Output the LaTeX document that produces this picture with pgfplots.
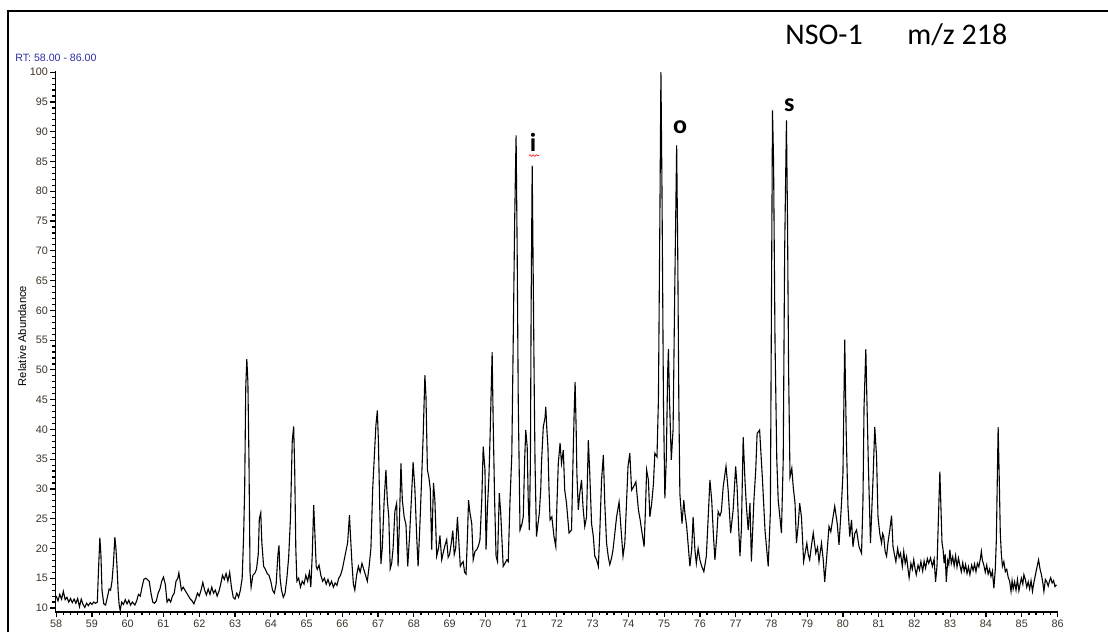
\documentclass[border=0pt]{standalone}
\usepackage{fontspec}
\setmainfont{Liberation Sans}
\newfontfamily\calibri{Carlito}
\usepackage{pgfplots}
\usepackage{pgfplotstable}
\pgfplotsset{compat=1.18}
\usetikzlibrary{decorations.pathmorphing}
\definecolor{ticktext}{RGB}{60,50,40}
\definecolor{rtblue}{RGB}{45,45,165}

% retention time (min) vs relative abundance
\pgfplotstableread{
rt ab
58.00 12.0
58.05 11.2
58.10 12.3
58.15 11.5
58.20 12.8
58.25 11.4
58.30 11.8
58.35 11.0
58.40 11.6
58.45 10.9
58.50 11.5
58.55 10.8
58.60 11.6
58.65 10.2
58.70 11.5
58.75 10.6
58.80 10.1
58.85 10.8
58.90 10.4
58.95 10.9
59.00 10.6
59.05 11.0
59.10 10.8
59.15 11.0
59.18 16.0
59.22 21.8
59.25 19.0
59.28 13.0
59.33 10.7
59.38 10.5
59.43 11.8
59.48 13.2
59.52 13.0
59.56 14.5
59.60 17.5
59.64 21.9
59.67 20.0
59.70 17.0
59.73 13.0
59.76 10.5
59.79 9.6
59.83 11.0
59.88 10.6
59.93 11.4
59.98 10.7
60.03 11.3
60.08 10.5
60.13 11.0
60.20 10.5
60.25 11.2
60.30 12.3
60.35 12.0
60.40 13.5
60.45 14.8
60.50 15.0
60.55 14.8
60.60 14.5
60.65 12.5
60.70 11.0
60.75 10.8
60.80 11.2
60.85 12.5
60.90 13.2
60.95 14.5
61.00 15.2
61.05 14.0
61.10 11.0
61.15 11.5
61.20 11.0
61.25 12.0
61.30 12.5
61.35 14.5
61.40 15.0
61.43 15.9
61.47 14.3
61.50 13.0
61.55 13.5
61.60 13.0
61.65 12.5
61.70 12.0
61.75 11.5
61.80 11.2
61.85 10.7
61.90 11.5
61.95 12.5
62.00 12.0
62.05 13.0
62.10 14.3
62.15 13.0
62.20 12.2
62.25 13.2
62.30 12.3
62.35 13.5
62.40 12.5
62.45 13.0
62.50 12.0
62.55 12.8
62.60 14.0
62.65 15.5
62.70 14.8
62.75 15.8
62.80 14.5
62.85 16.0
62.90 13.5
62.95 11.8
63.00 11.5
63.05 12.5
63.10 11.8
63.15 13.0
63.20 15.0
63.24 22.0
63.27 30.0
63.30 47.0
63.33 51.8
63.36 48.0
63.39 35.0
63.42 16.0
63.45 13.5
63.50 15.5
63.55 15.8
63.60 16.5
63.65 19.0
63.68 25.0
63.72 26.0
63.75 21.0
63.80 17.0
63.85 16.5
63.90 15.8
63.95 15.5
64.00 14.5
64.05 13.0
64.10 12.5
64.15 14.0
64.20 19.0
64.23 20.5
64.26 15.0
64.30 13.0
64.35 11.8
64.40 12.5
64.45 15.0
64.50 18.5
64.55 25.0
64.60 38.0
64.64 40.5
64.67 33.0
64.70 20.0
64.73 14.5
64.78 15.0
64.83 13.5
64.88 14.5
64.93 14.0
64.98 15.5
65.03 14.5
65.08 16.0
65.12 13.5
65.16 19.0
65.20 27.3
65.23 23.0
65.27 17.0
65.30 16.5
65.35 17.2
65.40 15.5
65.45 14.5
65.50 15.0
65.55 14.0
65.60 14.8
65.65 13.8
65.70 14.5
65.75 13.5
65.80 14.2
65.85 13.8
65.90 15.0
65.95 15.5
66.00 16.5
66.05 18.0
66.10 19.5
66.15 21.0
66.20 25.6
66.23 22.0
66.27 17.5
66.31 14.0
66.35 13.0
66.40 15.5
66.45 17.0
66.50 16.0
66.55 17.5
66.60 16.5
66.65 15.5
66.70 14.5
66.75 17.0
66.80 20.0
66.85 30.0
66.90 36.0
66.94 40.7
66.98 43.2
67.01 38.0
67.04 29.0
67.08 17.4
67.12 20.3
67.17 28.0
67.22 33.2
67.26 28.0
67.30 25.3
67.34 16.6
67.38 17.5
67.42 20.0
67.47 26.2
67.52 27.6
67.56 17.0
67.60 25.0
67.64 34.3
67.68 28.0
67.73 25.3
67.78 24.0
67.83 17.0
67.88 22.0
67.93 28.0
67.98 34.5
68.03 30.0
68.08 22.0
68.12 17.0
68.17 24.0
68.22 32.0
68.26 38.7
68.31 49.1
68.34 45.5
68.38 33.2
68.42 32.0
68.46 30.0
68.50 19.8
68.55 31.0
68.59 28.0
68.64 18.7
68.69 20.0
68.73 22.2
68.78 18.1
68.83 19.5
68.87 20.5
68.92 21.5
68.96 18.5
69.00 19.0
69.05 21.0
69.09 23.0
69.13 19.0
69.17 20.0
69.22 25.3
69.26 21.0
69.30 17.0
69.34 17.5
69.38 17.8
69.42 16.0
69.46 15.7
69.50 22.0
69.53 28.1
69.57 26.0
69.62 24.2
69.66 18.1
69.71 19.5
69.76 19.8
69.81 20.5
69.85 21.5
69.90 28.1
69.94 37.1
69.99 33.2
70.02 19.8
70.06 27.0
70.10 32.0
70.13 38.2
70.17 48.0
70.19 53.0
70.22 41.0
70.26 28.0
70.30 18.7
70.34 17.8
70.39 29.3
70.43 26.0
70.46 22.0
70.50 17.0
70.55 17.5
70.60 18.1
70.64 17.8
70.69 28.1
70.74 35.7
70.78 55.0
70.82 75.0
70.86 89.4
70.89 70.0
70.92 45.0
70.97 23.1
71.02 24.0
71.06 25.3
71.10 35.0
71.13 39.9
71.17 37.1
71.20 28.0
71.23 23.1
71.26 34.3
71.28 60.0
71.31 84.3
71.34 65.0
71.37 45.0
71.39 34.3
71.43 22.0
71.47 24.0
71.51 26.0
71.55 30.0
71.57 34.3
71.62 40.4
71.67 42.0
71.69 43.8
71.72 40.0
71.75 37.1
71.78 30.0
71.81 24.8
71.86 25.3
71.92 22.0
71.97 20.3
72.00 27.0
72.04 34.3
72.09 37.7
72.13 34.3
72.18 36.5
72.22 29.8
72.27 27.6
72.34 22.6
72.41 23.1
72.45 34.3
72.48 42.0
72.51 48.0
72.54 40.0
72.56 32.6
72.60 26.5
72.64 29.2
72.69 31.5
72.73 27.1
72.78 23.7
72.83 25.3
72.88 38.2
72.92 32.6
72.97 24.2
73.02 22.0
73.06 18.7
73.11 18.1
73.16 17.0
73.20 22.6
73.25 31.5
73.30 35.7
73.34 27.6
73.39 20.9
73.44 18.5
73.48 17.3
73.53 18.4
73.57 19.8
73.62 22.5
73.67 25.3
73.74 27.8
73.78 24.5
73.81 22.0
73.85 18.7
73.90 20.9
73.95 28.0
73.99 33.8
74.04 36.0
74.09 29.8
74.14 30.3
74.21 31.2
74.28 26.5
74.33 24.8
74.37 23.1
74.44 20.3
74.48 27.0
74.51 33.2
74.56 31.5
74.60 25.3
74.65 27.5
74.70 30.8
74.74 36.0
74.80 35.4
74.84 45.0
74.88 75.0
74.91 100.0
74.94 80.0
74.98 45.0
75.02 28.4
75.06 35.0
75.10 50.0
75.12 53.5
75.15 45.0
75.20 34.9
75.25 40.0
75.30 65.0
75.35 87.7
75.38 70.0
75.41 45.0
75.44 29.2
75.50 24.2
75.55 28.1
75.58 26.0
75.63 23.7
75.68 20.0
75.72 17.0
75.77 19.8
75.81 25.3
75.86 19.8
75.90 17.5
75.95 20.0
76.00 18.1
76.05 17.0
76.11 16.1
76.18 18.7
76.23 25.0
76.28 31.5
76.33 28.1
76.38 22.0
76.42 18.1
76.47 22.0
76.51 26.2
76.56 25.5
76.60 26.2
76.65 30.3
76.73 33.8
76.79 29.8
76.86 22.6
76.93 26.5
77.00 33.8
77.04 30.3
77.08 24.0
77.12 18.7
77.16 23.1
77.21 38.7
77.26 31.5
77.30 27.1
77.35 23.1
77.40 27.6
77.44 17.8
77.51 28.1
77.56 33.0
77.60 39.3
77.67 39.9
77.75 31.5
77.82 23.1
77.91 17.0
77.97 26.0
78.00 60.0
78.03 93.6
78.06 85.0
78.10 55.0
78.15 35.0
78.19 28.1
78.28 22.6
78.33 35.0
78.37 70.0
78.42 91.9
78.45 75.0
78.48 50.0
78.52 32.0
78.57 33.5
78.61 30.3
78.66 27.6
78.70 20.9
78.75 24.0
78.79 27.6
78.84 25.3
78.90 17.8
78.95 19.5
78.99 20.9
79.03 19.0
79.07 18.1
79.12 20.5
79.17 22.6
79.24 19.2
79.29 20.2
79.33 17.8
79.40 20.9
79.45 18.0
79.49 14.4
79.54 18.1
79.61 23.7
79.66 22.8
79.71 24.8
79.77 27.1
79.84 24.2
79.89 20.6
79.96 27.6
80.00 32.6
80.05 55.1
80.09 39.9
80.14 27.1
80.19 22.0
80.24 24.8
80.28 20.3
80.33 22.5
80.38 23.1
80.45 20.3
80.52 19.2
80.56 28.1
80.59 43.8
80.64 53.5
80.67 45.0
80.71 34.3
80.77 20.9
80.84 31.5
80.89 40.4
80.94 35.4
80.98 25.3
81.03 22.5
81.08 20.9
81.11 22.5
81.14 22.0
81.18 19.5
81.22 18.7
81.26 21.0
81.31 23.1
81.36 25.5
81.40 20.3
81.44 19.0
81.48 17.8
81.53 20.0
81.57 18.5
81.61 19.2
81.66 17.0
81.70 19.5
81.74 17.5
81.78 18.6
81.82 16.5
81.85 15.1
81.90 17.5
81.94 16.5
81.98 18.1
82.02 16.5
82.05 15.6
82.10 17.2
82.14 16.4
82.18 17.8
82.23 16.2
82.27 17.9
82.31 16.7
82.36 18.3
82.40 17.5
82.45 18.4
82.50 17.0
82.55 18.2
82.59 14.4
82.63 17.0
82.66 23.1
82.71 32.9
82.74 27.0
82.77 21.0
82.80 19.8
82.83 17.5
82.86 19.0
82.89 14.4
82.93 18.0
82.96 17.3
82.99 19.8
83.03 17.5
83.07 18.6
83.11 17.1
83.15 18.8
83.19 16.9
83.23 18.4
83.27 17.2
83.31 16.1
83.35 17.6
83.39 16.2
83.43 17.3
83.47 15.8
83.51 16.9
83.55 15.6
83.60 17.2
83.64 16.3
83.68 17.4
83.72 16.1
83.76 17.5
83.80 16.9
83.84 18.2
83.87 19.5
83.90 18.0
83.94 17.2
83.98 16.0
84.02 17.2
84.06 15.7
84.10 16.5
84.14 15.3
84.18 16.2
84.22 13.3
84.26 16.5
84.29 21.5
84.32 33.0
84.34 40.4
84.37 32.0
84.40 22.6
84.43 19.0
84.46 17.0
84.50 17.8
84.54 16.1
84.58 16.5
84.62 15.2
84.66 14.5
84.70 12.8
84.73 14.6
84.76 13.2
84.80 14.4
84.84 13.0
84.88 14.8
84.92 12.9
84.96 14.2
84.99 15.0
85.03 14.0
85.06 15.6
85.10 14.8
85.14 13.5
85.18 14.4
85.22 13.2
85.26 14.6
85.30 12.8
85.34 14.3
85.38 15.5
85.42 16.7
85.47 18.1
85.51 16.6
85.55 15.6
85.59 14.2
85.62 12.8
85.66 14.8
85.70 14.4
85.74 13.7
85.78 14.6
85.81 15.1
85.85 14.2
85.89 14.6
85.93 13.6
85.97 13.9
}\chrom

\begin{document}
\begin{tikzpicture}
\useasboundingbox (0,0) rectangle (554pt,316pt);
% frame of the screenshot (left and top edges only)
\draw[line width=1.1pt] (4pt,0) -- (4pt,310.5pt) -- (554pt,310.5pt);

\begin{axis}[
    at={(27.75pt,10pt)}, anchor=south west,
    scale only axis,
    width=501pt, height=270.5pt,
    xmin=57.98, xmax=86,
    ymin=9.33, ymax=100.2,
    axis x line=bottom, axis y line=left,
    axis line style={-, line width=0.9pt},
    xtick={58,...,86},
    ytick={10,15,...,100},
    minor x tick num=4,
    minor y tick num=4,
    tick align=outside,
    major tick length=2.6pt,
    minor tick length=1.6pt,
    tick style={line width=0.6pt, black},
    ticklabel style={font=\fontsize{5.4}{6}\selectfont, text=ticktext, inner sep=1pt},
    /pgf/number format/assume math mode=true,
    clip=false,
]
    \addplot[black, line width=0.55pt] table[x=rt, y=ab] {\chrom};
\end{axis}

\node[anchor=base west, font=\fontsize{5.3}{6}\selectfont, text=rtblue, inner sep=0] at (7.5pt,285pt) {RT: 58.00 - 86.00};
\node[rotate=90, font=\fontsize{5.6}{6}\selectfont, inner sep=0] at (11pt,148pt) {Relative Abundance};

\node[anchor=base west, font=\calibri\fontsize{15}{17}\selectfont, inner sep=0] at (392.5pt,293.5pt) {NSO-1};
\node[anchor=base west, font=\calibri\fontsize{15}{17}\selectfont, inner sep=0] at (453.5pt,293.5pt) {m/z 218};

\node[anchor=base, font=\calibri\bfseries\fontsize{13}{15}\selectfont, inner sep=0] at (266.5pt,240pt) {i};
\node[anchor=base, font=\calibri\bfseries\fontsize{13}{15}\selectfont, inner sep=0] at (340pt,249pt) {o};
\node[anchor=base, font=\calibri\bfseries\fontsize{13}{15}\selectfont, inner sep=0] at (394.7pt,260pt) {s};
\draw[red!80, line width=0.35pt, decorate, decoration={snake, amplitude=0.45pt, segment length=1.6pt}] (264.5pt,238.2pt) -- (269.5pt,238.2pt);
\end{tikzpicture}
\end{document}
